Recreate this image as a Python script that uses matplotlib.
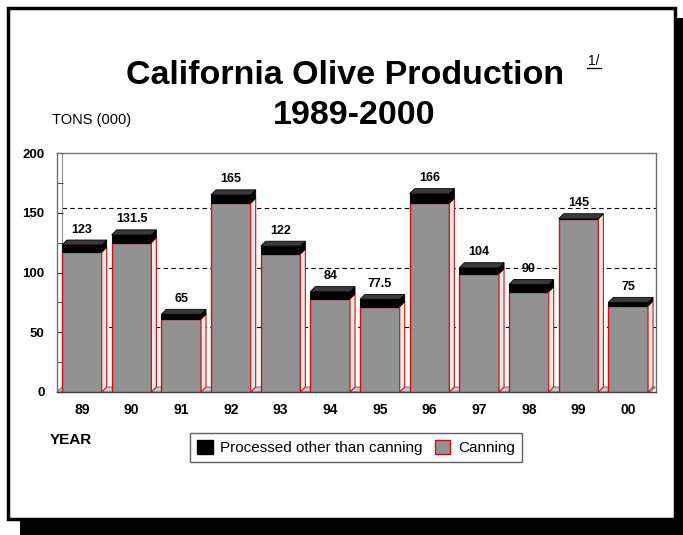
import matplotlib
matplotlib.use("Agg")
import matplotlib.pyplot as plt
import matplotlib.patches as mpatches
import matplotlib.transforms as mtransforms
import numpy as np

plt.rcParams['font.family'] = ['Liberation Sans', 'DejaVu Sans']

years = ["89", "90", "91", "92", "93", "94", "95", "96", "97", "98", "99", "00"]
canning = [117, 125, 61, 158, 115.5, 78, 71.5, 158, 99, 84, 145, 72]
other = [6, 6.5, 4, 7, 6.5, 6, 6, 8, 5, 6, 0, 3]
yticks = [0, 50, 100, 150, 200]

W, H = 683, 535
fig = plt.figure(figsize=(W / 100, H / 100), dpi=100)

# frame with drop shadow (pixel coords via inches)
def px_rect(x0, y0, x1, y1, **kw):
    r = mpatches.Rectangle((x0 / 100, (H - y1) / 100), (x1 - x0) / 100, (y1 - y0) / 100,
                           transform=fig.dpi_scale_trans, **kw)
    fig.patches.append(r)

px_rect(20, 18, 683, 535, facecolor='black', edgecolor='none', zorder=0)
px_rect(8, 8, 675, 519, facecolor='white', edgecolor='black', linewidth=2.5, zorder=1)

ax = fig.add_axes([57 / W, 1 - 392 / H, (655.5 - 57) / W, (392 - 153) / H])
ax.set_zorder(2)
ax.patch.set_alpha(0)

x = np.arange(len(years))
width = 0.8
xlim = (-0.5, 11.55)
ylim = (0, 200)
ax.set_xlim(*xlim)
ax.set_ylim(*ylim)

# 3D depth in data units
depth = 5
axw = (655.5 - 57)
axh = (392 - 153)
dx = depth / axw * (xlim[1] - xlim[0])
dy = depth / axh * (ylim[1] - ylim[0])

# back wall gridlines (shifted up by the depth)
off = mtransforms.ScaledTranslation(0, depth / 100, fig.dpi_scale_trans)
for v in yticks[1:-1]:
    ax.plot([depth / axw, 1], [v, v], transform=ax.get_yaxis_transform() + off,
            color='black', lw=0.8, ls=(0, (4, 3)), zorder=1, clip_on=False)
# back wall left edge
ax.plot([depth / axw, depth / axw], [0, 1], transform=ax.transAxes,
        color='#909090', lw=0.8, zorder=1)

# floor
floor = mpatches.Polygon([(xlim[0], 0), (xlim[0] + dx, dy), (xlim[1], dy), (xlim[1] - dx, 0)],
                         closed=True, facecolor='#c8c8c8', edgecolor='#606060', lw=0.6, zorder=2)
ax.add_patch(floor)

canning_a = np.array(canning, dtype=float)
other_a = np.array(other, dtype=float)
total = canning_a + other_a

ax.bar(x, canning_a, width=width, color='#929292', edgecolor='#d01010', linewidth=1.0, zorder=3)
ax.bar(x, other_a, bottom=canning_a, width=width, color='black', edgecolor='black',
       linewidth=0.8, zorder=3)

for xi, c, o in zip(x, canning_a, other_a):
    x0, x1 = xi - width / 2, xi + width / 2
    # side of canning part
    ax.add_patch(mpatches.Polygon([(x1, 0), (x1 + dx, dy), (x1 + dx, c + dy), (x1, c)],
                                  closed=True, facecolor='#e8e8e8', edgecolor='#d01010',
                                  lw=0.8, zorder=3))
    if o > 0:
        ax.add_patch(mpatches.Polygon([(x1, c), (x1 + dx, c + dy), (x1 + dx, c + o + dy), (x1, c + o)],
                                      closed=True, facecolor='black', edgecolor='black',
                                      lw=0.6, zorder=3))
    top = c + o
    ax.add_patch(mpatches.Polygon([(x0, top), (x0 + dx, top + dy), (x1 + dx, top + dy), (x1, top)],
                                  closed=True, facecolor='#3a3a3a', edgecolor='black',
                                  lw=0.6, zorder=4))

for xi, t in zip(x, total):
    ax.annotate('%g' % t, (xi, t), xytext=(0, 9), textcoords='offset points',
                ha='center', va='baseline', fontsize=9, fontweight='bold', zorder=5)

ax.set_yticks(yticks)
ax.set_yticklabels([str(v) for v in yticks], fontsize=9.5, fontweight='bold')
ax.set_yticks(np.arange(25, 200, 50), minor=True)
ax.set_xticks(x)
ax.set_xticklabels(years, fontsize=10, fontweight='bold')
ax.tick_params(axis='y', which='both', direction='in', length=4, pad=9, color='#333333')
ax.tick_params(axis='x', direction='in', length=3, pad=8, color='#333333')
for s in ax.spines.values():
    s.set_color('#707070')
    s.set_linewidth(1.0)
ax.spines['bottom'].set_color('#404040')

# titles and labels
fig.text(345.5 / W, 1 - 84 / H, 'California Olive Production', fontsize=24.5, fontweight='bold',
         ha='center', va='baseline', zorder=5)
fig.text(354 / W, 1 - 124 / H, '1989-2000', fontsize=24.5, fontweight='bold',
         ha='center', va='baseline', zorder=5)
fig.text(594 / W, 1 - 65 / H, '1/', fontsize=10, ha='center', va='baseline', zorder=5)
fig.add_artist(plt.Line2D([587 / W, 601 / W], [1 - 68 / H, 1 - 68 / H], color='black', lw=0.9))
fig.text(52 / W, 1 - 124 / H, 'TONS (000)', fontsize=10.5, ha='left', va='baseline', zorder=5)
fig.text(50 / W, 1 - 444 / H, 'YEAR', fontsize=11, fontweight='bold', ha='left', va='baseline', zorder=5)

handles = [mpatches.Patch(facecolor='black', edgecolor='black', label='Processed other than canning'),
           mpatches.Patch(facecolor='#929292', edgecolor='#d01010', label='Canning')]
leg = fig.legend(handles=handles, loc='center', bbox_to_anchor=(356 / W, 1 - 447.5 / H), ncol=2,
                 fontsize=11, fancybox=False, edgecolor='#606060', framealpha=1,
                 handlelength=1.0, handleheight=1.0, handletextpad=0.5, columnspacing=0.8,
                 borderpad=0.45)
leg.set_zorder(5)
leg.get_frame().set_linewidth(1.0)

fig.savefig('out.png', dpi=100)
